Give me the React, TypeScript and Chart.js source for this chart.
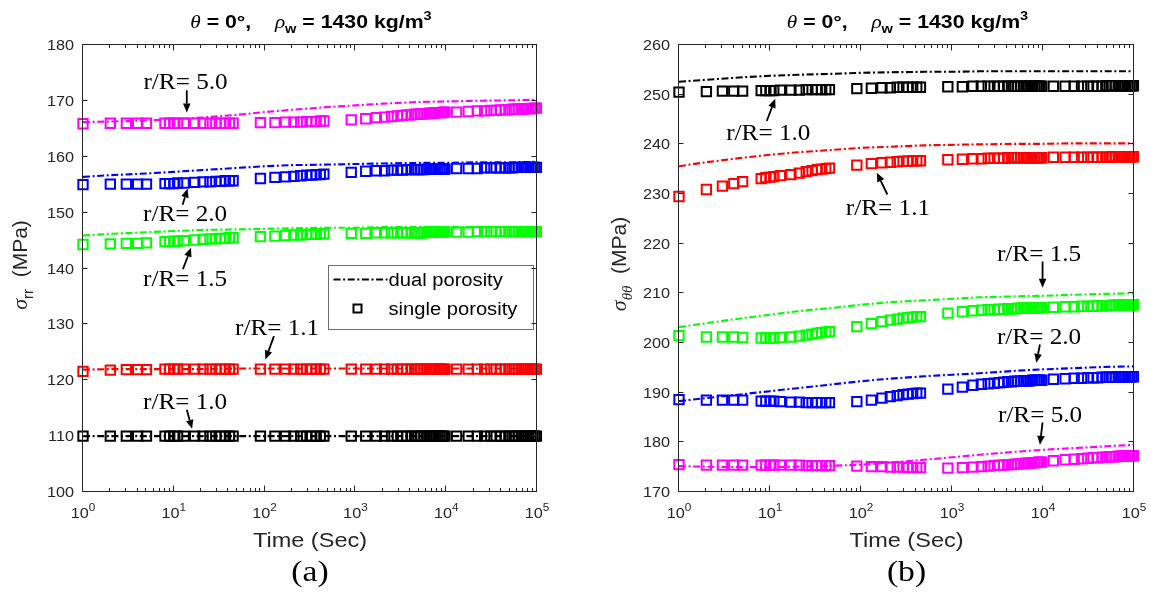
import React, { useEffect, useRef } from 'react';
import { Chart, registerables } from 'chart.js';

Chart.register(...registerables);

// ---------------- data ----------------
const timeSec = [
  1, 2, 3, 4, 5,
  8, 9, 10, 11, 13, 17, 21, 25, 29, 33, 37, 41, 45,
  90, 130, 170, 210, 250, 290, 330, 370, 410, 450,
  900, 1300, 1700, 2100, 2500, 2900, 3300, 3700, 4100, 4500, 4900, 5300, 5700, 6100, 6500, 6900, 7300, 7700, 8100, 8500, 8900, 9300, 9700,
  13000, 17500, 22000, 26500, 31000, 35500, 40000, 44500, 49000, 53500, 58000, 62500, 67000, 71500, 76000, 80500, 85000, 89500, 94000, 98500,
];
const dualTimeSec = [1, 2, 5, 10, 20, 50, 100, 200, 500, 1000, 2000, 5000, 10000, 20000, 50000, 100000];

const ratioLabels = ['r/R= 1.0', 'r/R= 1.1', 'r/R= 1.5', 'r/R= 2.0', 'r/R= 5.0'];
const seriesColors = ['#000000', '#ff0000', '#00ff00', '#0000ff', '#ff00ff'];
const legendLabels = ['dual porosity', 'single porosity'];

const xTickValues = [1, 10, 100, 1000, 10000, 100000];
const xTickExponents = ['0', '1', '2', '3', '4', '5'];
const yTicksA = [100, 110, 120, 130, 140, 150, 160, 170, 180];
const yTicksB = [170, 180, 190, 200, 210, 220, 230, 240, 250, 260];

// panel (a) sigma_rr, single porosity
const aSingle10 = [
  110, 110, 110, 110, 110,
  110, 110, 110, 110, 110, 110, 110, 110, 110, 110, 110, 110, 110,
  110, 110, 110, 110, 110, 110, 110, 110, 110, 110,
  110, 110, 110, 110, 110, 110, 110, 110, 110, 110, 110, 110, 110, 110, 110, 110, 110, 110, 110, 110, 110, 110, 110,
  110, 110, 110, 110, 110, 110, 110, 110, 110, 110, 110, 110, 110, 110, 110, 110, 110, 110, 110, 110,
];
const aSingle11 = [
  121.6, 121.8, 121.9, 121.9, 121.9,
  122.0, 122.0, 122.0, 122.0, 122.0, 122.0, 122.0, 122.0, 122.0, 122.0, 122.0, 122.0, 122.0,
  122.0, 122.0, 122.0, 122.0, 122.0, 122.0, 122.0, 122.0, 122.0, 122.0,
  122.0, 122.0, 122.0, 122.0, 122.0, 122.0, 122.0, 122.0, 122.0, 122.0, 122.0, 122.0, 122.0, 122.0, 122.0, 122.0, 122.0, 122.0, 122.0, 122.0, 122.0, 122.0, 122.0,
  122.0, 122.0, 122.0, 122.0, 122.0, 122.0, 122.0, 122.0, 122.0, 122.0, 122.0, 122.0, 122.0, 122.0, 122.0, 122.0, 122.0, 122.0, 122.0, 122.0,
];
const aSingle15 = [
  144.3, 144.4, 144.5, 144.5, 144.6,
  144.8, 144.8, 144.9, 144.9, 145.0, 145.1, 145.2, 145.3, 145.3, 145.4, 145.4, 145.5, 145.5,
  145.7, 145.8, 145.9, 146.0, 146.0, 146.1, 146.1, 146.1, 146.2, 146.2,
  146.3, 146.3, 146.4, 146.4, 146.4, 146.4, 146.4, 146.4, 146.4, 146.4, 146.4, 146.4, 146.4, 146.5, 146.5, 146.5, 146.5, 146.5, 146.5, 146.5, 146.5, 146.5, 146.5,
  146.5, 146.5, 146.6, 146.6, 146.6, 146.6, 146.6, 146.6, 146.6, 146.6, 146.6, 146.6, 146.6, 146.6, 146.6, 146.6, 146.6, 146.6, 146.6, 146.6,
];
const aSingle20 = [
  155.0, 155.1, 155.1, 155.1, 155.1,
  155.2, 155.2, 155.2, 155.3, 155.3, 155.4, 155.5, 155.5, 155.6, 155.6, 155.7, 155.7, 155.7,
  156.1, 156.3, 156.4, 156.5, 156.6, 156.7, 156.7, 156.8, 156.8, 156.9,
  157.2, 157.4, 157.5, 157.5, 157.6, 157.6, 157.6, 157.7, 157.7, 157.7, 157.7, 157.7, 157.7, 157.8, 157.8, 157.8, 157.8, 157.8, 157.8, 157.8, 157.8, 157.8, 157.8,
  157.9, 157.9, 157.9, 158.0, 158.0, 158.0, 158.0, 158.0, 158.0, 158.0, 158.1, 158.1, 158.1, 158.1, 158.1, 158.1, 158.1, 158.1, 158.1, 158.1,
];
const aSingle50 = [
  165.9, 166.0, 166.0, 166.0, 166.0,
  166.0, 166.0, 166.0, 166.0, 166.0, 166.0, 166.0, 166.0, 166.0, 166.0, 166.0, 166.0, 166.0,
  166.1, 166.1, 166.2, 166.2, 166.2, 166.3, 166.3, 166.3, 166.4, 166.4,
  166.6, 166.8, 167.0, 167.1, 167.2, 167.3, 167.4, 167.5, 167.5, 167.6, 167.6, 167.7, 167.7, 167.7, 167.8, 167.8, 167.8, 167.9, 167.9, 167.9, 167.9, 168.0, 168.0,
  168.0, 168.1, 168.2, 168.2, 168.3, 168.3, 168.4, 168.4, 168.4, 168.5, 168.5, 168.5, 168.5, 168.6, 168.6, 168.6, 168.6, 168.6, 168.7, 168.7,
];

// panel (a) sigma_rr, dual porosity
const aDual10 = [110, 110, 110, 110, 110, 110, 110, 110, 110, 110, 110, 110, 110, 110, 110, 110];
const aDual11 = [121.9, 122.0, 122.0, 122.0, 122.0, 122.1, 122.1, 122.1, 122.1, 122.1, 122.1, 122.1, 122.1, 122.1, 122.1, 122.1];
const aDual15 = [145.9, 146.2, 146.5, 146.7, 146.9, 147.0, 147.1, 147.2, 147.3, 147.3, 147.4, 147.4, 147.4, 147.4, 147.4, 147.4];
const aDual20 = [156.4, 156.7, 157.0, 157.3, 157.6, 158.0, 158.3, 158.5, 158.6, 158.7, 158.8, 158.9, 158.9, 159.0, 159.0, 159.1];
const aDual50 = [166.2, 166.3, 166.5, 166.7, 167.0, 167.5, 168.0, 168.4, 168.9, 169.2, 169.5, 169.8, 169.9, 170.0, 170.1, 170.2];

// panel (b) sigma_thetatheta, single porosity
const bSingle10 = [
  250.5, 250.6, 250.7, 250.7, 250.7,
  250.8, 250.8, 250.8, 250.8, 250.9, 250.9, 250.9, 251.0, 251.0, 251.0, 251.0, 251.0, 251.0,
  251.2, 251.3, 251.4, 251.4, 251.5, 251.5, 251.5, 251.5, 251.5, 251.5,
  251.6, 251.6, 251.7, 251.7, 251.7, 251.7, 251.7, 251.7, 251.7, 251.7, 251.7, 251.7, 251.7, 251.7, 251.7, 251.7, 251.7, 251.7, 251.7, 251.7, 251.7, 251.7, 251.7,
  251.7, 251.7, 251.7, 251.7, 251.7, 251.7, 251.7, 251.7, 251.8, 251.8, 251.8, 251.8, 251.8, 251.8, 251.8, 251.8, 251.8, 251.8, 251.8, 251.8,
];
const bSingle11 = [
  229.5, 230.9, 231.6, 232.1, 232.5,
  233.1, 233.3, 233.4, 233.5, 233.7, 233.9, 234.2, 234.5, 234.7, 234.9, 235.0, 235.1, 235.2,
  235.8, 236.1, 236.3, 236.4, 236.5, 236.6, 236.6, 236.7, 236.7, 236.7,
  236.9, 237.0, 237.1, 237.1, 237.2, 237.2, 237.2, 237.2, 237.3, 237.3, 237.3, 237.3, 237.3, 237.3, 237.3, 237.3, 237.3, 237.3, 237.3, 237.3, 237.3, 237.3, 237.3,
  237.4, 237.4, 237.4, 237.4, 237.4, 237.4, 237.4, 237.4, 237.4, 237.4, 237.5, 237.5, 237.5, 237.5, 237.5, 237.5, 237.5, 237.5, 237.5, 237.5,
];
const bSingle15 = [
  201.5, 201.2, 201.2, 201.2, 201.1,
  201.0, 201.0, 201.0, 201.0, 201.1, 201.2, 201.4, 201.6, 201.8, 202.0, 202.1, 202.2, 202.3,
  203.3, 203.9, 204.3, 204.6, 204.8, 205.0, 205.1, 205.2, 205.3, 205.3,
  206.0, 206.3, 206.5, 206.6, 206.7, 206.7, 206.8, 206.8, 206.9, 206.9, 206.9, 207.0, 207.0, 207.0, 207.0, 207.0, 207.1, 207.1, 207.1, 207.1, 207.1, 207.1, 207.1,
  207.2, 207.3, 207.3, 207.4, 207.4, 207.4, 207.5, 207.5, 207.5, 207.5, 207.6, 207.6, 207.6, 207.6, 207.6, 207.7, 207.7, 207.7, 207.7, 207.7,
];
const bSingle20 = [
  188.6, 188.5, 188.5, 188.5, 188.5,
  188.3, 188.3, 188.3, 188.3, 188.2, 188.1, 188.1, 188.0, 188.0, 188.0, 188.0, 188.0, 188.0,
  188.2, 188.5, 188.9, 189.2, 189.4, 189.6, 189.7, 189.8, 189.9, 189.9,
  190.7, 191.1, 191.5, 191.7, 191.8, 191.9, 192.0, 192.1, 192.2, 192.2, 192.3, 192.3, 192.3, 192.4, 192.4, 192.4, 192.4, 192.5, 192.5, 192.5, 192.5, 192.5, 192.5,
  192.7, 192.8, 192.9, 192.9, 193.0, 193.0, 193.0, 193.1, 193.1, 193.1, 193.1, 193.1, 193.2, 193.2, 193.2, 193.2, 193.2, 193.2, 193.2, 193.2,
];
const bSingle50 = [
  175.5, 175.4, 175.4, 175.4, 175.4,
  175.4, 175.4, 175.4, 175.4, 175.4, 175.4, 175.4, 175.3, 175.3, 175.3, 175.3, 175.3, 175.3,
  175.2, 175.1, 175.1, 175.0, 175.0, 175.0, 174.9, 174.9, 174.9, 174.9,
  174.8, 174.9, 175.0, 175.1, 175.2, 175.3, 175.4, 175.4, 175.5, 175.5, 175.6, 175.6, 175.7, 175.7, 175.8, 175.8, 175.8, 175.9, 175.9, 175.9, 176.0, 176.0, 176.0,
  176.3, 176.5, 176.6, 176.7, 176.8, 176.9, 176.9, 177.0, 177.0, 177.1, 177.1, 177.1, 177.2, 177.2, 177.2, 177.3, 177.3, 177.3, 177.3, 177.3,
];

// panel (b) sigma_thetatheta, dual porosity
const bDual10 = [252.6, 253.0, 253.5, 253.8, 254.0, 254.2, 254.4, 254.5, 254.6, 254.6, 254.7, 254.7, 254.7, 254.7, 254.7, 254.7];
const bDual11 = [235.6, 236.4, 237.3, 237.9, 238.4, 238.9, 239.3, 239.5, 239.8, 239.9, 240.0, 240.1, 240.1, 240.2, 240.2, 240.2];
const bDual15 = [203.2, 204.0, 205.0, 205.7, 206.4, 207.1, 207.7, 208.2, 208.6, 208.9, 209.2, 209.4, 209.5, 209.7, 209.9, 210.0];
const bDual20 = [188.3, 188.9, 189.7, 190.3, 190.9, 191.7, 192.3, 192.8, 193.3, 193.6, 193.9, 194.4, 194.7, 194.9, 195.2, 195.3];
const bDual50 = [175.2, 175.1, 175.0, 175.0, 175.1, 175.3, 175.5, 175.9, 176.5, 177.0, 177.5, 178.1, 178.5, 178.8, 179.2, 179.5];

// ---------------- styling / layout ----------------
const SX = 1.12;
const SANS = '"Liberation Sans", Arial, Helvetica, sans-serif';
const SERIF = '"Liberation Serif", "Times New Roman", Times, serif';
const INK = '#262626';
const DASH = [7, 2.6, 2, 2.6];

type Run = { t: string; f: string; dy?: number };
type Ann = { text: string; tx: number; ty: number; x1: number; y1: number; x2: number; y2: number };
type PanelCfg = {
  padding: { left: number; right: number; top: number; bottom: number };
  width: number;
  left: number;
  yMin: number;
  yMax: number;
  yTicks: number[];
  ySub: string;
  subItalic: boolean;
  yLabelX: number;
  yLabelCY: number;
  panelLabel: string;
  anns: Ann[];
  legend: boolean;
  single: number[][];
  dual: number[][];
};

function drawRuns(
  ctx: CanvasRenderingContext2D,
  runs: Run[],
  x: number,
  y: number,
  opts: { angle?: number; align?: 'left' | 'center' | 'right'; sx?: number; color?: string }
) {
  ctx.save();
  ctx.translate(x, y);
  if (opts.angle) ctx.rotate(opts.angle);
  ctx.scale(opts.sx ?? 1, 1);
  ctx.fillStyle = opts.color ?? '#000';
  ctx.textBaseline = 'alphabetic';
  ctx.textAlign = 'left';
  let total = 0;
  const ws = runs.map((r) => {
    ctx.font = r.f;
    const w = ctx.measureText(r.t).width;
    total += w;
    return w;
  });
  let cx = opts.align === 'center' ? -total / 2 : opts.align === 'right' ? -total : 0;
  runs.forEach((r, i) => {
    ctx.font = r.f;
    ctx.fillText(r.t, cx, r.dy ?? 0);
    cx += ws[i];
  });
  ctx.restore();
}

function makeDecor(p: PanelCfg) {
  return {
    id: 'panelDecor',
    afterDraw(chart: any) {
      const ctx: CanvasRenderingContext2D = chart.ctx;
      const ca = chart.chartArea;
      const xs = chart.scales.x;
      const ys = chart.scales.y;
      const L = ca.left - 0.5;
      const R = ca.right - 0.5;
      const T = ca.top - 0.5;
      const B = ca.bottom - 0.5;
      const cxPlot = (ca.left + ca.right) / 2;
      ctx.save();

      // legend box
      if (p.legend) {
        const lx = Math.round(ca.right - 209) + 0.5;
        const ly = Math.round(ca.top + 220) + 0.5;
        ctx.fillStyle = '#ffffff';
        ctx.fillRect(lx, ly, 205, 64);
        ctx.strokeStyle = '#6e6e6e';
        ctx.lineWidth = 1;
        ctx.setLineDash([]);
        ctx.strokeRect(lx, ly, 205, 64);
        ctx.strokeStyle = '#000';
        ctx.lineWidth = 1.8;
        ctx.setLineDash(DASH);
        ctx.beginPath();
        ctx.moveTo(lx + 5, ly + 14);
        ctx.lineTo(lx + 59, ly + 14);
        ctx.stroke();
        ctx.setLineDash([]);
        ctx.lineWidth = 2;
        ctx.strokeRect(lx + 25, ly + 39, 8, 8);
        drawRuns(ctx, [{ t: legendLabels[0], f: `18px ${SANS}` }], lx + 60, ly + 20, { sx: SX, color: '#000' });
        drawRuns(ctx, [{ t: legendLabels[1], f: `18px ${SANS}` }], lx + 60, ly + 49, { sx: SX, color: '#000' });
      }

      // axes box
      ctx.setLineDash([]);
      ctx.strokeStyle = INK;
      ctx.lineWidth = 1;
      ctx.strokeRect(L, T, R - L, B - T);

      const seg = (x1: number, y1: number, x2: number, y2: number) => {
        ctx.beginPath();
        ctx.moveTo(x1, y1);
        ctx.lineTo(x2, y2);
        ctx.stroke();
      };

      // x ticks (log, with minor)
      xTickValues.forEach((v, i) => {
        const px = Math.round(xs.getPixelForValue(v)) - 0.5;
        seg(px, B, px, B - 6);
        seg(px, T, px, T + 6);
        if (i < xTickValues.length - 1) {
          for (let k = 2; k <= 9; k++) {
            const mx = Math.round(xs.getPixelForValue(v * k)) - 0.5;
            seg(mx, B, mx, B - 3.5);
            seg(mx, T, mx, T + 3.5);
          }
        }
        drawRuns(
          ctx,
          [
            { t: '10', f: `14.5px ${SANS}` },
            { t: xTickExponents[i], f: `10.5px ${SANS}`, dy: -7.5 },
          ],
          xs.getPixelForValue(v),
          ca.bottom + 26,
          { align: 'center', sx: SX, color: INK }
        );
      });

      // y ticks
      p.yTicks.forEach((v) => {
        const py = Math.round(ys.getPixelForValue(v)) - 0.5;
        seg(L, py, L + 5, py);
        seg(R, py, R - 5, py);
        drawRuns(ctx, [{ t: String(v), f: `14.5px ${SANS}` }], ca.left - 9, py + 5.5, {
          align: 'right',
          sx: SX,
          color: INK,
        });
      });

      // x axis title
      drawRuns(ctx, [{ t: 'Time (Sec)', f: `21px ${SANS}` }], cxPlot, ca.bottom + 54.5, {
        align: 'center',
        sx: SX,
        color: INK,
      });

      // y axis title
      drawRuns(
        ctx,
        [
          { t: 'σ', f: `italic 22px ${SERIF}` },
          { t: p.ySub, f: p.subItalic ? `italic 15px ${SERIF}` : `15px ${SANS}`, dy: 6 },
          { t: '  (MPa)', f: `21px ${SANS}` },
        ],
        p.yLabelX,
        p.yLabelCY,
        { angle: -Math.PI / 2, align: 'center', sx: 1, color: INK }
      );

      // title
      drawRuns(
        ctx,
        [
          { t: 'θ', f: `italic 19px ${SERIF}` },
          { t: ' = 0°,    ', f: `bold 19px ${SANS}` },
          { t: 'ρ', f: `italic 19px ${SERIF}` },
          { t: 'w', f: `bold 13px ${SANS}`, dy: 5 },
          { t: ' = 1430 kg/m', f: `bold 19px ${SANS}` },
          { t: '3', f: `bold 13px ${SANS}`, dy: -8 },
        ],
        cxPlot + 1,
        28,
        { align: 'center', sx: SX, color: '#000' }
      );

      // panel label
      drawRuns(ctx, [{ t: p.panelLabel, f: `30px ${SERIF}` }], cxPlot, 581, { align: 'center', sx: SX, color: '#000' });

      // annotations with arrows
      p.anns.forEach((a) => {
        drawRuns(ctx, [{ t: a.text, f: `22.5px ${SERIF}` }], xs.getPixelForValue(a.tx), ys.getPixelForValue(a.ty), {
          sx: SX,
          color: '#000',
        });
        const x1 = xs.getPixelForValue(a.x1);
        const y1 = ys.getPixelForValue(a.y1);
        const x2 = xs.getPixelForValue(a.x2);
        const y2 = ys.getPixelForValue(a.y2);
        const ang = Math.atan2(y2 - y1, x2 - x1);
        const hl = 9;
        const hw = 3.8;
        const bx = x2 - hl * Math.cos(ang);
        const by = y2 - hl * Math.sin(ang);
        ctx.strokeStyle = '#000';
        ctx.fillStyle = '#000';
        ctx.lineWidth = 1.8;
        seg(x1, y1, bx, by);
        ctx.beginPath();
        ctx.moveTo(x2, y2);
        ctx.lineTo(bx + hw * Math.sin(ang), by - hw * Math.cos(ang));
        ctx.lineTo(bx - hw * Math.sin(ang), by + hw * Math.cos(ang));
        ctx.closePath();
        ctx.fill();
        ctx.strokeStyle = INK;
        ctx.lineWidth = 1;
      });

      ctx.restore();
    },
  };
}

function buildConfig(p: PanelCfg): any {
  const datasets: any[] = [];
  p.dual.forEach((vals, i) => {
    datasets.push({
      label: 'dual porosity ' + ratioLabels[i],
      data: dualTimeSec.map((t, j) => ({ x: t, y: vals[j] })),
      showLine: true,
      borderColor: seriesColors[i],
      backgroundColor: seriesColors[i],
      borderWidth: 2.1,
      borderDash: DASH,
      pointRadius: 0,
      pointHoverRadius: 0,
      tension: 0,
      fill: false,
      order: 0,
    });
  });
  p.single.forEach((vals, i) => {
    datasets.push({
      label: 'single porosity ' + ratioLabels[i],
      data: timeSec.map((t, j) => ({ x: t, y: vals[j] })),
      showLine: false,
      pointStyle: 'rect',
      pointRadius: 6.6,
      pointHoverRadius: 6.6,
      borderWidth: 2,
      borderColor: seriesColors[i],
      backgroundColor: 'rgba(0,0,0,0)',
      clip: false,
      order: 1,
    });
  });
  return {
    type: 'scatter',
    data: { datasets },
    options: {
      animation: false,
      responsive: false,
      devicePixelRatio: 1,
      events: [],
      layout: { padding: p.padding },
      plugins: { legend: { display: false }, title: { display: false }, tooltip: { enabled: false } },
      scales: {
        x: { type: 'logarithmic', min: 1, max: 100000, display: false },
        y: { type: 'linear', min: p.yMin, max: p.yMax, display: false },
      },
    },
    plugins: [makeDecor(p)],
  };
}

const panelA: PanelCfg = {
  padding: { left: 83, right: 38, top: 45, bottom: 105 },
  width: 575,
  left: 0,
  yMin: 100,
  yMax: 180,
  yTicks: yTicksA,
  ySub: 'rr',
  subItalic: false,
  yLabelX: 27,
  yLabelCY: 265,
  panelLabel: '(a)',
  legend: true,
  single: [aSingle10, aSingle11, aSingle15, aSingle20, aSingle50],
  dual: [aDual10, aDual11, aDual15, aDual20, aDual50],
  anns: [
    { text: ratioLabels[4], tx: 4.63, ty: 172.1, x1: 13.9, y1: 171.9, x2: 13.9, y2: 167.9 },
    { text: ratioLabels[3], tx: 4.58, ty: 148.5, x1: 12.5, y1: 151.4, x2: 14.2, y2: 154.3 },
    { text: ratioLabels[2], tx: 4.58, ty: 136.9, x1: 12.6, y1: 139.9, x2: 15.5, y2: 143.7 },
    { text: ratioLabels[1], tx: 47.2, ty: 128.1, x1: 126.9, y1: 127.9, x2: 102, y2: 123.7 },
    { text: ratioLabels[0], tx: 4.58, ty: 114.9, x1: 13.9, y1: 114.7, x2: 15.9, y2: 111.3 },
  ],
};

const panelB: PanelCfg = {
  padding: { left: 104, right: 17, top: 45, bottom: 105 },
  width: 576,
  left: 575,
  yMin: 170,
  yMax: 260,
  yTicks: yTicksB,
  ySub: 'θθ',
  subItalic: true,
  yLabelX: 51,
  yLabelCY: 264,
  panelLabel: '(b)',
  legend: false,
  single: [bSingle10, bSingle11, bSingle15, bSingle20, bSingle50],
  dual: [bDual10, bDual11, bDual15, bDual20, bDual50],
  anns: [
    { text: ratioLabels[0], tx: 3.3, ty: 240.9, x1: 9.21, y1: 244.7, x2: 11.4, y2: 249.2 },
    { text: ratioLabels[1], tx: 68.1, ty: 225.8, x1: 194.7, y1: 229.9, x2: 149.3, y2: 234.3 },
    { text: ratioLabels[2], tx: 3118, ty: 216.5, x1: 9890, y1: 216.4, x2: 9890, y2: 211.1 },
    { text: ratioLabels[3], tx: 3118, ty: 199.8, x1: 9250, y1: 199.7, x2: 8450, y2: 196.0 },
    { text: ratioLabels[4], tx: 3197, ty: 184.1, x1: 9890, y1: 184.0, x2: 9250, y2: 179.5 },
  ],
};

function Panel({ cfg }: { cfg: PanelCfg }) {
  const ref = useRef<HTMLCanvasElement>(null);
  useEffect(() => {
    if (!ref.current) return;
    const chart = new Chart(ref.current, buildConfig(cfg));
    return () => chart.destroy();
  }, [cfg]);
  return (
    <canvas
      ref={ref}
      width={cfg.width}
      height={597}
      style={{ position: 'absolute', left: cfg.left, top: 0, width: cfg.width, height: 597, display: 'block' }}
    />
  );
}

export default function App() {
  return (
    <div
      style={{
        position: 'fixed',
        left: 0,
        top: 0,
        width: 1151,
        height: 597,
        background: '#ffffff',
        overflow: 'hidden',
      }}
    >
      <Panel cfg={panelA} />
      <Panel cfg={panelB} />
    </div>
  );
}
